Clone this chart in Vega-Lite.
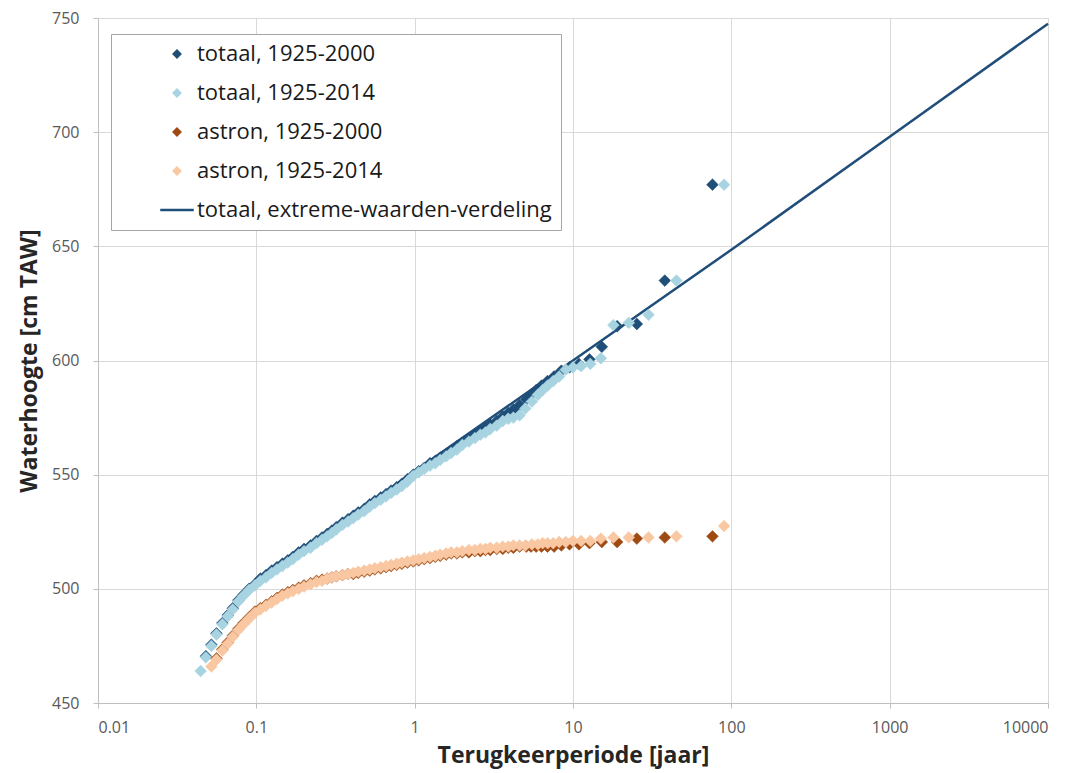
{
  "$schema": "https://vega.github.io/schema/vega-lite/v6.json",
  "width": 950,
  "height": 685,
  "autosize": "none",
  "padding": {"left": 98, "top": 18, "right": 30, "bottom": 70},
  "background": "white",
  "config": {
    "view": {"stroke": "#d9d9d9"},
    "axis": {
      "labelFont": "Open Sans",
      "labelFontSize": 16,
      "labelColor": "#595959",
      "titleFont": "Open Sans",
      "titleFontSize": 23,
      "titleFontWeight": "bold",
      "titleColor": "#262626",
      "gridColor": "#d9d9d9",
      "domainColor": "#bfbfbf",
      "tickColor": "#bfbfbf",
      "tickSize": 5
    },
    "legend": {
      "labelFont": "Open Sans",
      "labelFontSize": 22,
      "labelColor": "#1a1a1a",
      "padding": 9,
      "rowPadding": 17,
      "strokeColor": "#a6a6a6",
      "fillColor": "white",
      "symbolSize": 40,
      "symbolStrokeWidth": 2.5,
      "symbolOffset": 46,
      "labelOffset": 9,
      "labelLimit": 700
    }
  },
  "layer": [
    {
      "data": {
        "values": [
          {"reeks": "totaal, extreme-waarden-verdeling", "T": 0.1, "h": 502.5},
          {"reeks": "totaal, extreme-waarden-verdeling", "T": 1, "h": 551.5},
          {"reeks": "totaal, extreme-waarden-verdeling", "T": 10, "h": 600},
          {"reeks": "totaal, extreme-waarden-verdeling", "T": 100, "h": 648.5},
          {"reeks": "totaal, extreme-waarden-verdeling", "T": 1000, "h": 698},
          {"reeks": "totaal, extreme-waarden-verdeling", "T": 10000, "h": 747.5}
        ]
      },
      "mark": {"type": "line", "strokeWidth": 2.5},
      "encoding": {
        "x": {"field": "T", "type": "quantitative", "scale": {"type": "log", "domain": [0.01, 10000], "nice": false}},
        "y": {"field": "h", "type": "quantitative", "scale": {"domain": [450, 750], "nice": false, "zero": false}},
        "stroke": {
          "field": "reeks",
          "type": "nominal",
          "scale": {
            "domain": ["totaal, 1925-2000", "totaal, 1925-2014", "astron, 1925-2000", "astron, 1925-2014", "totaal, extreme-waarden-verdeling"],
            "range": ["#1f4e79", "#a8d4e2", "#9e4a12", "#f9c8a2", "#1f4e79"]
          },
          "legend": {"orient": "none", "legendX": 13, "legendY": 16, "title": null}
        }
      }
    },
    {
      "data": {
        "values": [
          {"reeks": "totaal, 1925-2000", "T": 76, "h": 677},
          {"reeks": "totaal, 1925-2000", "T": 38, "h": 635},
          {"reeks": "totaal, 1925-2000", "T": 25.3, "h": 616},
          {"reeks": "totaal, 1925-2000", "T": 19, "h": 615},
          {"reeks": "totaal, 1925-2000", "T": 15.2, "h": 606},
          {"reeks": "totaal, 1925-2000", "T": 12.7, "h": 600.5},
          {"reeks": "totaal, 1925-2000", "T": 10.9, "h": 598.5},
          {"reeks": "totaal, 1925-2000", "T": 9.5, "h": 597},
          {"reeks": "totaal, 1925-2000", "T": 8.44, "h": 595.5},
          {"reeks": "totaal, 1925-2000", "T": 7.6, "h": 593},
          {"reeks": "totaal, 1925-2000", "T": 6.9, "h": 591},
          {"reeks": "totaal, 1925-2000", "T": 6.33, "h": 589},
          {"reeks": "totaal, 1925-2000", "T": 5.85, "h": 587},
          {"reeks": "totaal, 1925-2000", "T": 5.43, "h": 585},
          {"reeks": "totaal, 1925-2000", "T": 5.07, "h": 583},
          {"reeks": "totaal, 1925-2000", "T": 4.6, "h": 580.5},
          {"reeks": "totaal, 1925-2000", "T": 4.2, "h": 578.5},
          {"reeks": "totaal, 1925-2000", "T": 3.9, "h": 577},
          {"reeks": "totaal, 1925-2000", "T": 3.6, "h": 575.5},
          {"reeks": "totaal, 1925-2000", "T": 3.3, "h": 573.5},
          {"reeks": "totaal, 1925-2000", "T": 3.0, "h": 572},
          {"reeks": "totaal, 1925-2000", "T": 2.8, "h": 570.5},
          {"reeks": "totaal, 1925-2000", "T": 2.6, "h": 569},
          {"reeks": "totaal, 1925-2000", "T": 2.4, "h": 567.5},
          {"reeks": "totaal, 1925-2000", "T": 2.2, "h": 565.5},
          {"reeks": "totaal, 1925-2000", "T": 2.0, "h": 564},
          {"reeks": "totaal, 1925-2000", "T": 1.85, "h": 562.5},
          {"reeks": "totaal, 1925-2000", "T": 1.7, "h": 560.5},
          {"reeks": "totaal, 1925-2000", "T": 1.58, "h": 559},
          {"reeks": "totaal, 1925-2000", "T": 1.45, "h": 557.5},
          {"reeks": "totaal, 1925-2000", "T": 1.35, "h": 556},
          {"reeks": "totaal, 1925-2000", "T": 1.25, "h": 555},
          {"reeks": "totaal, 1925-2000", "T": 1.15, "h": 553},
          {"reeks": "totaal, 1925-2000", "T": 1.06, "h": 551.5},
          {"reeks": "totaal, 1925-2000", "T": 0.98, "h": 550},
          {"reeks": "totaal, 1925-2000", "T": 0.9, "h": 548},
          {"reeks": "totaal, 1925-2000", "T": 0.83, "h": 546},
          {"reeks": "totaal, 1925-2000", "T": 0.77, "h": 544.5},
          {"reeks": "totaal, 1925-2000", "T": 0.71, "h": 543},
          {"reeks": "totaal, 1925-2000", "T": 0.66, "h": 541.5},
          {"reeks": "totaal, 1925-2000", "T": 0.61, "h": 540},
          {"reeks": "totaal, 1925-2000", "T": 0.56, "h": 538.5},
          {"reeks": "totaal, 1925-2000", "T": 0.52, "h": 537},
          {"reeks": "totaal, 1925-2000", "T": 0.48, "h": 535},
          {"reeks": "totaal, 1925-2000", "T": 0.44, "h": 533.5},
          {"reeks": "totaal, 1925-2000", "T": 0.41, "h": 532},
          {"reeks": "totaal, 1925-2000", "T": 0.38, "h": 530.5},
          {"reeks": "totaal, 1925-2000", "T": 0.35, "h": 529},
          {"reeks": "totaal, 1925-2000", "T": 0.32, "h": 527},
          {"reeks": "totaal, 1925-2000", "T": 0.30, "h": 525.5},
          {"reeks": "totaal, 1925-2000", "T": 0.28, "h": 524},
          {"reeks": "totaal, 1925-2000", "T": 0.26, "h": 522.5},
          {"reeks": "totaal, 1925-2000", "T": 0.24, "h": 521},
          {"reeks": "totaal, 1925-2000", "T": 0.22, "h": 519},
          {"reeks": "totaal, 1925-2000", "T": 0.20, "h": 517.5},
          {"reeks": "totaal, 1925-2000", "T": 0.185, "h": 516},
          {"reeks": "totaal, 1925-2000", "T": 0.17, "h": 514},
          {"reeks": "totaal, 1925-2000", "T": 0.158, "h": 512.5},
          {"reeks": "totaal, 1925-2000", "T": 0.146, "h": 511},
          {"reeks": "totaal, 1925-2000", "T": 0.135, "h": 509.5},
          {"reeks": "totaal, 1925-2000", "T": 0.125, "h": 508},
          {"reeks": "totaal, 1925-2000", "T": 0.115, "h": 506},
          {"reeks": "totaal, 1925-2000", "T": 0.106, "h": 504.5},
          {"reeks": "totaal, 1925-2000", "T": 0.098, "h": 502},
          {"reeks": "totaal, 1925-2000", "T": 0.09, "h": 500},
          {"reeks": "totaal, 1925-2000", "T": 0.083, "h": 497.5},
          {"reeks": "totaal, 1925-2000", "T": 0.077, "h": 495},
          {"reeks": "totaal, 1925-2000", "T": 0.071, "h": 491.5},
          {"reeks": "totaal, 1925-2000", "T": 0.066, "h": 488.5},
          {"reeks": "totaal, 1925-2000", "T": 0.061, "h": 485},
          {"reeks": "totaal, 1925-2000", "T": 0.056, "h": 480.5},
          {"reeks": "totaal, 1925-2000", "T": 0.052, "h": 475.5},
          {"reeks": "totaal, 1925-2000", "T": 0.048, "h": 470.5},

          {"reeks": "totaal, 1925-2014", "T": 90, "h": 677},
          {"reeks": "totaal, 1925-2014", "T": 45, "h": 635},
          {"reeks": "totaal, 1925-2014", "T": 30, "h": 620},
          {"reeks": "totaal, 1925-2014", "T": 22.5, "h": 616.5},
          {"reeks": "totaal, 1925-2014", "T": 18, "h": 615.5},
          {"reeks": "totaal, 1925-2014", "T": 15, "h": 601},
          {"reeks": "totaal, 1925-2014", "T": 12.86, "h": 598.5},
          {"reeks": "totaal, 1925-2014", "T": 11.25, "h": 597.5},
          {"reeks": "totaal, 1925-2014", "T": 10, "h": 597},
          {"reeks": "totaal, 1925-2014", "T": 9, "h": 596},
          {"reeks": "totaal, 1925-2014", "T": 8.18, "h": 593},
          {"reeks": "totaal, 1925-2014", "T": 7.5, "h": 591},
          {"reeks": "totaal, 1925-2014", "T": 6.92, "h": 589},
          {"reeks": "totaal, 1925-2014", "T": 6.43, "h": 587},
          {"reeks": "totaal, 1925-2014", "T": 6, "h": 585},
          {"reeks": "totaal, 1925-2014", "T": 5.5, "h": 582},
          {"reeks": "totaal, 1925-2014", "T": 5, "h": 579},
          {"reeks": "totaal, 1925-2014", "T": 4.6, "h": 576},
          {"reeks": "totaal, 1925-2014", "T": 4.2, "h": 575},
          {"reeks": "totaal, 1925-2014", "T": 3.9, "h": 574.5},
          {"reeks": "totaal, 1925-2014", "T": 3.6, "h": 573.5},
          {"reeks": "totaal, 1925-2014", "T": 3.3, "h": 571.5},
          {"reeks": "totaal, 1925-2014", "T": 3.0, "h": 570},
          {"reeks": "totaal, 1925-2014", "T": 2.8, "h": 568.5},
          {"reeks": "totaal, 1925-2014", "T": 2.6, "h": 567.5},
          {"reeks": "totaal, 1925-2014", "T": 2.4, "h": 566},
          {"reeks": "totaal, 1925-2014", "T": 2.2, "h": 564.5},
          {"reeks": "totaal, 1925-2014", "T": 2.0, "h": 563},
          {"reeks": "totaal, 1925-2014", "T": 1.85, "h": 561},
          {"reeks": "totaal, 1925-2014", "T": 1.7, "h": 559.5},
          {"reeks": "totaal, 1925-2014", "T": 1.58, "h": 558},
          {"reeks": "totaal, 1925-2014", "T": 1.45, "h": 556.5},
          {"reeks": "totaal, 1925-2014", "T": 1.35, "h": 555},
          {"reeks": "totaal, 1925-2014", "T": 1.25, "h": 554},
          {"reeks": "totaal, 1925-2014", "T": 1.15, "h": 552.5},
          {"reeks": "totaal, 1925-2014", "T": 1.06, "h": 551},
          {"reeks": "totaal, 1925-2014", "T": 0.98, "h": 549.5},
          {"reeks": "totaal, 1925-2014", "T": 0.9, "h": 547},
          {"reeks": "totaal, 1925-2014", "T": 0.83, "h": 545},
          {"reeks": "totaal, 1925-2014", "T": 0.77, "h": 543.5},
          {"reeks": "totaal, 1925-2014", "T": 0.71, "h": 542},
          {"reeks": "totaal, 1925-2014", "T": 0.66, "h": 540.5},
          {"reeks": "totaal, 1925-2014", "T": 0.61, "h": 539},
          {"reeks": "totaal, 1925-2014", "T": 0.56, "h": 537.5},
          {"reeks": "totaal, 1925-2014", "T": 0.52, "h": 536},
          {"reeks": "totaal, 1925-2014", "T": 0.48, "h": 534},
          {"reeks": "totaal, 1925-2014", "T": 0.44, "h": 532.5},
          {"reeks": "totaal, 1925-2014", "T": 0.41, "h": 531},
          {"reeks": "totaal, 1925-2014", "T": 0.38, "h": 529.5},
          {"reeks": "totaal, 1925-2014", "T": 0.35, "h": 528},
          {"reeks": "totaal, 1925-2014", "T": 0.32, "h": 526},
          {"reeks": "totaal, 1925-2014", "T": 0.30, "h": 524.5},
          {"reeks": "totaal, 1925-2014", "T": 0.28, "h": 523},
          {"reeks": "totaal, 1925-2014", "T": 0.26, "h": 521.5},
          {"reeks": "totaal, 1925-2014", "T": 0.24, "h": 520},
          {"reeks": "totaal, 1925-2014", "T": 0.22, "h": 518},
          {"reeks": "totaal, 1925-2014", "T": 0.20, "h": 516.5},
          {"reeks": "totaal, 1925-2014", "T": 0.185, "h": 515},
          {"reeks": "totaal, 1925-2014", "T": 0.17, "h": 513},
          {"reeks": "totaal, 1925-2014", "T": 0.158, "h": 511.5},
          {"reeks": "totaal, 1925-2014", "T": 0.146, "h": 510},
          {"reeks": "totaal, 1925-2014", "T": 0.135, "h": 508.5},
          {"reeks": "totaal, 1925-2014", "T": 0.125, "h": 507},
          {"reeks": "totaal, 1925-2014", "T": 0.115, "h": 505},
          {"reeks": "totaal, 1925-2014", "T": 0.106, "h": 503.5},
          {"reeks": "totaal, 1925-2014", "T": 0.098, "h": 501.5},
          {"reeks": "totaal, 1925-2014", "T": 0.09, "h": 499.5},
          {"reeks": "totaal, 1925-2014", "T": 0.083, "h": 497},
          {"reeks": "totaal, 1925-2014", "T": 0.077, "h": 494.5},
          {"reeks": "totaal, 1925-2014", "T": 0.071, "h": 491},
          {"reeks": "totaal, 1925-2014", "T": 0.066, "h": 488},
          {"reeks": "totaal, 1925-2014", "T": 0.061, "h": 484.5},
          {"reeks": "totaal, 1925-2014", "T": 0.056, "h": 480},
          {"reeks": "totaal, 1925-2014", "T": 0.052, "h": 475},
          {"reeks": "totaal, 1925-2014", "T": 0.048, "h": 470},
          {"reeks": "totaal, 1925-2014", "T": 0.0445, "h": 464},

          {"reeks": "astron, 1925-2000", "T": 76, "h": 523},
          {"reeks": "astron, 1925-2000", "T": 38, "h": 522.5},
          {"reeks": "astron, 1925-2000", "T": 25.3, "h": 522},
          {"reeks": "astron, 1925-2000", "T": 19, "h": 520.5},
          {"reeks": "astron, 1925-2000", "T": 15.2, "h": 520.5},
          {"reeks": "astron, 1925-2000", "T": 12.7, "h": 520},
          {"reeks": "astron, 1925-2000", "T": 10.9, "h": 519.5},
          {"reeks": "astron, 1925-2000", "T": 9.5, "h": 519.5},
          {"reeks": "astron, 1925-2000", "T": 8.44, "h": 519},
          {"reeks": "astron, 1925-2000", "T": 7.6, "h": 518.5},
          {"reeks": "astron, 1925-2000", "T": 6.9, "h": 518.5},
          {"reeks": "astron, 1925-2000", "T": 6.33, "h": 518.5},
          {"reeks": "astron, 1925-2000", "T": 5.85, "h": 518.5},
          {"reeks": "astron, 1925-2000", "T": 5.43, "h": 518.5},
          {"reeks": "astron, 1925-2000", "T": 5.07, "h": 518.5},
          {"reeks": "astron, 1925-2000", "T": 4.6, "h": 518.5},
          {"reeks": "astron, 1925-2000", "T": 4.2, "h": 518},
          {"reeks": "astron, 1925-2000", "T": 3.9, "h": 518},
          {"reeks": "astron, 1925-2000", "T": 3.6, "h": 517.5},
          {"reeks": "astron, 1925-2000", "T": 3.3, "h": 517.5},
          {"reeks": "astron, 1925-2000", "T": 3.0, "h": 517},
          {"reeks": "astron, 1925-2000", "T": 2.8, "h": 517},
          {"reeks": "astron, 1925-2000", "T": 2.6, "h": 516.5},
          {"reeks": "astron, 1925-2000", "T": 2.4, "h": 516.5},
          {"reeks": "astron, 1925-2000", "T": 2.2, "h": 516},
          {"reeks": "astron, 1925-2000", "T": 2.0, "h": 516},
          {"reeks": "astron, 1925-2000", "T": 1.85, "h": 515.5},
          {"reeks": "astron, 1925-2000", "T": 1.7, "h": 515.5},
          {"reeks": "astron, 1925-2000", "T": 1.58, "h": 515},
          {"reeks": "astron, 1925-2000", "T": 1.45, "h": 514.5},
          {"reeks": "astron, 1925-2000", "T": 1.35, "h": 514},
          {"reeks": "astron, 1925-2000", "T": 1.25, "h": 513.5},
          {"reeks": "astron, 1925-2000", "T": 1.15, "h": 513},
          {"reeks": "astron, 1925-2000", "T": 1.06, "h": 512.5},
          {"reeks": "astron, 1925-2000", "T": 0.98, "h": 512},
          {"reeks": "astron, 1925-2000", "T": 0.9, "h": 511.5},
          {"reeks": "astron, 1925-2000", "T": 0.83, "h": 511},
          {"reeks": "astron, 1925-2000", "T": 0.77, "h": 510.5},
          {"reeks": "astron, 1925-2000", "T": 0.71, "h": 510},
          {"reeks": "astron, 1925-2000", "T": 0.66, "h": 509.5},
          {"reeks": "astron, 1925-2000", "T": 0.61, "h": 509},
          {"reeks": "astron, 1925-2000", "T": 0.56, "h": 508.5},
          {"reeks": "astron, 1925-2000", "T": 0.52, "h": 508},
          {"reeks": "astron, 1925-2000", "T": 0.48, "h": 507.5},
          {"reeks": "astron, 1925-2000", "T": 0.44, "h": 507},
          {"reeks": "astron, 1925-2000", "T": 0.41, "h": 506.5},
          {"reeks": "astron, 1925-2000", "T": 0.38, "h": 506.5},
          {"reeks": "astron, 1925-2000", "T": 0.35, "h": 506},
          {"reeks": "astron, 1925-2000", "T": 0.32, "h": 505.5},
          {"reeks": "astron, 1925-2000", "T": 0.30, "h": 505},
          {"reeks": "astron, 1925-2000", "T": 0.28, "h": 504.5},
          {"reeks": "astron, 1925-2000", "T": 0.26, "h": 504},
          {"reeks": "astron, 1925-2000", "T": 0.24, "h": 503.5},
          {"reeks": "astron, 1925-2000", "T": 0.22, "h": 502.5},
          {"reeks": "astron, 1925-2000", "T": 0.2, "h": 501.5},
          {"reeks": "astron, 1925-2000", "T": 0.185, "h": 500.5},
          {"reeks": "astron, 1925-2000", "T": 0.17, "h": 499.5},
          {"reeks": "astron, 1925-2000", "T": 0.158, "h": 498.5},
          {"reeks": "astron, 1925-2000", "T": 0.146, "h": 497.5},
          {"reeks": "astron, 1925-2000", "T": 0.135, "h": 496},
          {"reeks": "astron, 1925-2000", "T": 0.125, "h": 494.5},
          {"reeks": "astron, 1925-2000", "T": 0.115, "h": 493},
          {"reeks": "astron, 1925-2000", "T": 0.106, "h": 491.5},
          {"reeks": "astron, 1925-2000", "T": 0.098, "h": 490},
          {"reeks": "astron, 1925-2000", "T": 0.09, "h": 487.5},
          {"reeks": "astron, 1925-2000", "T": 0.083, "h": 485},
          {"reeks": "astron, 1925-2000", "T": 0.077, "h": 482.5},
          {"reeks": "astron, 1925-2000", "T": 0.071, "h": 479.5},
          {"reeks": "astron, 1925-2000", "T": 0.066, "h": 476.5},
          {"reeks": "astron, 1925-2000", "T": 0.061, "h": 473.5},
          {"reeks": "astron, 1925-2000", "T": 0.056, "h": 469.5},

          {"reeks": "astron, 1925-2014", "T": 90, "h": 527.5},
          {"reeks": "astron, 1925-2014", "T": 45, "h": 523},
          {"reeks": "astron, 1925-2014", "T": 30, "h": 522.5},
          {"reeks": "astron, 1925-2014", "T": 22.5, "h": 522.5},
          {"reeks": "astron, 1925-2014", "T": 18, "h": 522.5},
          {"reeks": "astron, 1925-2014", "T": 15, "h": 522},
          {"reeks": "astron, 1925-2014", "T": 12.86, "h": 521},
          {"reeks": "astron, 1925-2014", "T": 11.25, "h": 521},
          {"reeks": "astron, 1925-2014", "T": 10, "h": 521},
          {"reeks": "astron, 1925-2014", "T": 9, "h": 520.5},
          {"reeks": "astron, 1925-2014", "T": 8.18, "h": 520.5},
          {"reeks": "astron, 1925-2014", "T": 7.5, "h": 520},
          {"reeks": "astron, 1925-2014", "T": 6.92, "h": 520},
          {"reeks": "astron, 1925-2014", "T": 6.43, "h": 520},
          {"reeks": "astron, 1925-2014", "T": 6, "h": 519.5},
          {"reeks": "astron, 1925-2014", "T": 5.5, "h": 519.5},
          {"reeks": "astron, 1925-2014", "T": 5, "h": 519},
          {"reeks": "astron, 1925-2014", "T": 4.6, "h": 519},
          {"reeks": "astron, 1925-2014", "T": 4.2, "h": 519},
          {"reeks": "astron, 1925-2014", "T": 3.9, "h": 518.5},
          {"reeks": "astron, 1925-2014", "T": 3.6, "h": 518.5},
          {"reeks": "astron, 1925-2014", "T": 3.3, "h": 518},
          {"reeks": "astron, 1925-2014", "T": 3.0, "h": 518},
          {"reeks": "astron, 1925-2014", "T": 2.8, "h": 517.5},
          {"reeks": "astron, 1925-2014", "T": 2.6, "h": 517.5},
          {"reeks": "astron, 1925-2014", "T": 2.4, "h": 517},
          {"reeks": "astron, 1925-2014", "T": 2.2, "h": 517},
          {"reeks": "astron, 1925-2014", "T": 2.0, "h": 516.5},
          {"reeks": "astron, 1925-2014", "T": 1.85, "h": 516},
          {"reeks": "astron, 1925-2014", "T": 1.7, "h": 516},
          {"reeks": "astron, 1925-2014", "T": 1.58, "h": 515.5},
          {"reeks": "astron, 1925-2014", "T": 1.45, "h": 515},
          {"reeks": "astron, 1925-2014", "T": 1.35, "h": 514.5},
          {"reeks": "astron, 1925-2014", "T": 1.25, "h": 514},
          {"reeks": "astron, 1925-2014", "T": 1.15, "h": 513.5},
          {"reeks": "astron, 1925-2014", "T": 1.06, "h": 513},
          {"reeks": "astron, 1925-2014", "T": 0.98, "h": 512.5},
          {"reeks": "astron, 1925-2014", "T": 0.9, "h": 512},
          {"reeks": "astron, 1925-2014", "T": 0.83, "h": 511.5},
          {"reeks": "astron, 1925-2014", "T": 0.77, "h": 511},
          {"reeks": "astron, 1925-2014", "T": 0.71, "h": 510.5},
          {"reeks": "astron, 1925-2014", "T": 0.66, "h": 510},
          {"reeks": "astron, 1925-2014", "T": 0.61, "h": 509.5},
          {"reeks": "astron, 1925-2014", "T": 0.56, "h": 509},
          {"reeks": "astron, 1925-2014", "T": 0.52, "h": 508.5},
          {"reeks": "astron, 1925-2014", "T": 0.48, "h": 508},
          {"reeks": "astron, 1925-2014", "T": 0.44, "h": 507.5},
          {"reeks": "astron, 1925-2014", "T": 0.41, "h": 507},
          {"reeks": "astron, 1925-2014", "T": 0.38, "h": 506.5},
          {"reeks": "astron, 1925-2014", "T": 0.35, "h": 506},
          {"reeks": "astron, 1925-2014", "T": 0.32, "h": 505.5},
          {"reeks": "astron, 1925-2014", "T": 0.30, "h": 505},
          {"reeks": "astron, 1925-2014", "T": 0.28, "h": 504.5},
          {"reeks": "astron, 1925-2014", "T": 0.26, "h": 503.5},
          {"reeks": "astron, 1925-2014", "T": 0.24, "h": 503},
          {"reeks": "astron, 1925-2014", "T": 0.22, "h": 502},
          {"reeks": "astron, 1925-2014", "T": 0.2, "h": 501},
          {"reeks": "astron, 1925-2014", "T": 0.185, "h": 500},
          {"reeks": "astron, 1925-2014", "T": 0.17, "h": 499},
          {"reeks": "astron, 1925-2014", "T": 0.158, "h": 498},
          {"reeks": "astron, 1925-2014", "T": 0.146, "h": 497},
          {"reeks": "astron, 1925-2014", "T": 0.135, "h": 495.5},
          {"reeks": "astron, 1925-2014", "T": 0.125, "h": 494},
          {"reeks": "astron, 1925-2014", "T": 0.115, "h": 492.5},
          {"reeks": "astron, 1925-2014", "T": 0.106, "h": 491},
          {"reeks": "astron, 1925-2014", "T": 0.098, "h": 489.5},
          {"reeks": "astron, 1925-2014", "T": 0.09, "h": 487},
          {"reeks": "astron, 1925-2014", "T": 0.083, "h": 484.5},
          {"reeks": "astron, 1925-2014", "T": 0.077, "h": 482},
          {"reeks": "astron, 1925-2014", "T": 0.071, "h": 479},
          {"reeks": "astron, 1925-2014", "T": 0.066, "h": 476},
          {"reeks": "astron, 1925-2014", "T": 0.061, "h": 473},
          {"reeks": "astron, 1925-2014", "T": 0.056, "h": 469},
          {"reeks": "astron, 1925-2014", "T": 0.052, "h": 466}
        ]
      },
      "mark": {"type": "point", "filled": true, "opacity": 1, "strokeWidth": 0.5, "size": 140},
      "encoding": {
        "x": {
          "field": "T",
          "type": "quantitative",
          "scale": {"type": "log", "domain": [0.01, 10000], "nice": false},
          "axis": {
            "title": "Terugkeerperiode [jaar]",
            "values": [0.01, 0.1, 1, 10, 100, 1000, 10000],
            "format": "~g",
            "labelPadding": 11,
            "titlePadding": 9
          }
        },
        "y": {
          "field": "h",
          "type": "quantitative",
          "scale": {"domain": [450, 750], "nice": false, "zero": false},
          "axis": {
            "title": "Waterhoogte [cm TAW]",
            "values": [450, 500, 550, 600, 650, 700, 750],
            "labelPadding": 14,
            "titlePadding": 10
          }
        },
        "fill": {
          "field": "reeks",
          "type": "nominal",
          "scale": {
            "domain": ["totaal, 1925-2000", "totaal, 1925-2014", "astron, 1925-2000", "astron, 1925-2014", "totaal, extreme-waarden-verdeling"],
            "range": ["#1f4e79", "#a8d4e2", "#9e4a12", "#f9c8a2", "#1f4e79"]
          },
          "legend": {"orient": "none", "legendX": 13, "legendY": 16, "title": null}
        },
        "stroke": {
          "field": "reeks",
          "type": "nominal",
          "scale": {
            "domain": ["totaal, 1925-2000", "totaal, 1925-2014", "astron, 1925-2000", "astron, 1925-2014", "totaal, extreme-waarden-verdeling"],
            "range": ["#1f4e79", "#a8d4e2", "#9e4a12", "#f9c8a2", "#1f4e79"]
          },
          "legend": {"orient": "none", "legendX": 13, "legendY": 16, "title": null}
        },
        "shape": {
          "field": "reeks",
          "type": "nominal",
          "scale": {
            "domain": ["totaal, 1925-2000", "totaal, 1925-2014", "astron, 1925-2000", "astron, 1925-2014", "totaal, extreme-waarden-verdeling"],
            "range": ["diamond", "diamond", "diamond", "diamond", "M-5.3,0L5.3,0"]
          },
          "legend": {"orient": "none", "legendX": 13, "legendY": 16, "title": null}
        }
      }
    }
  ]
}
